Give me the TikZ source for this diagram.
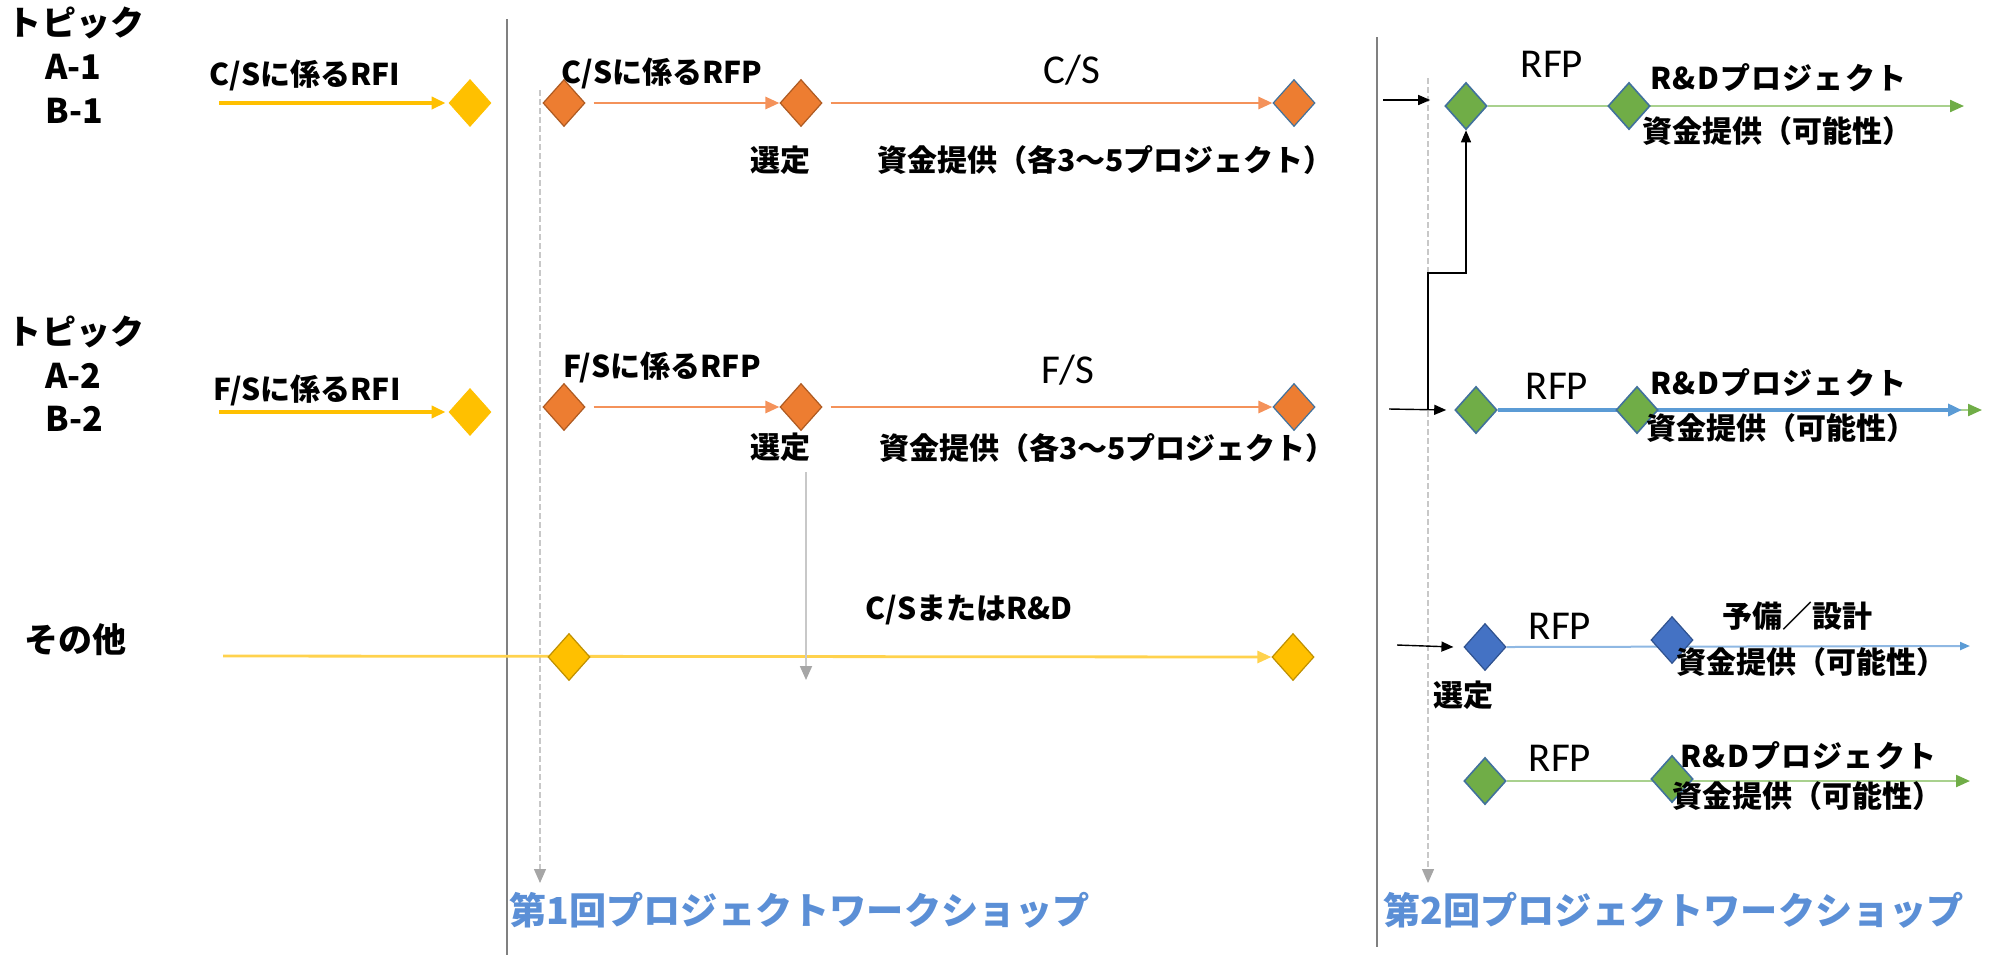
\documentclass[tikz,border=0pt]{standalone}
\usepackage{fontspec}
\setmainfont{Noto Sans CJK JP}
\newfontfamily\calfont{Carlito}
\usetikzlibrary{shapes.geometric,arrows.meta}
\pgfdeclarelayer{bg}
\pgfsetlayers{bg,main}
\definecolor{cYel}{HTML}{FFC000}
\definecolor{cYelD}{HTML}{BF9000}
\definecolor{cYelL}{HTML}{FFD24D}
\definecolor{cOr}{HTML}{ED7D31}
\definecolor{cOrD}{HTML}{AE5A21}
\definecolor{cOrL}{HTML}{F4925A}
\definecolor{cGr}{HTML}{70AD47}
\definecolor{cGrL}{HTML}{A9D18E}
\definecolor{cBlB}{HTML}{41719C}
\definecolor{cBl}{HTML}{4472C4}
\definecolor{cBlD}{HTML}{2F528F}
\definecolor{cBlL}{HTML}{5B9BD5}
\definecolor{cBlLL}{HTML}{8FB8E3}
\definecolor{cWs}{HTML}{5B8FD6}
\definecolor{cGray}{HTML}{808080}
\definecolor{cGrayL}{HTML}{C8C8C8}
\begin{document}
\begin{tikzpicture}[x=0.5pt,y=-0.5pt,
  dia/.style={diamond, inner sep=0pt, minimum width=21pt, minimum height=23.5pt},
  ydia/.style={dia, fill=cYel, draw=cYel},
  ydiaB/.style={dia, fill=cYel, draw=cYelD, line width=0.6pt},
  odia/.style={dia, fill=cOr, draw=cOrD, line width=0.6pt},
  gdia/.style={dia, fill=cGr, draw=cBlB, line width=0.8pt},
  bdia/.style={dia, fill=cBl, draw=cBlD, line width=0.6pt},
  tip/.style={-{Triangle[length=7pt,width=6pt]}},
  yarr/.style={tip, draw=cYel, line width=2pt, shorten >=1.5pt},
  y3arr/.style={tip, draw=cYelL, line width=1.4pt},
  oarr/.style={tip, draw=cOrL, line width=1.4pt, shorten <=4pt},
  garr/.style={tip, draw=cGrL, line width=1.1pt, -{Triangle[length=7pt,width=6pt,fill=cGr,color=cGr]}},
  barr/.style={draw=cBlL, line width=2pt, -{Triangle[length=7pt,width=6pt]}},
  b3arr/.style={draw=cBlLL, line width=1pt, -{Triangle[length=5pt,width=4pt,color=cBlL]}},
  karr/.style={draw=black, line width=0.7pt, -{Triangle[length=6pt,width=5pt]}},
  grarr/.style={draw=cGrayL, line width=0.9pt, -{Triangle[length=7pt,width=6pt,color=gray!70]}},
  dsh/.style={draw=cGrayL, line width=0.6pt, dash pattern=on 3pt off 1.5pt, -{Triangle[length=7pt,width=6pt,color=gray!70]}},
  vline/.style={draw=cGray, line width=1pt},
  lbl/.style={font=\fontsize{15}{18}\selectfont\bfseries, inner sep=0pt},
  rdl/.style={font=\fontsize{15}{18}\selectfont\bfseries\addfontfeature{LetterSpace=4}, inner sep=0pt},
  big/.style={font=\fontsize{17}{20}\selectfont\bfseries, inner sep=0pt},
  hdr/.style={font=\calfont\fontsize{20.5}{24}\selectfont, inner sep=0pt},
  ws/.style={font=\fontsize{18.6}{22}\selectfont\bfseries, text=cWs, inner sep=0pt}]
\useasboundingbox (0,0) rectangle (1990,955);

% ---- diamonds ----
\node[ydia] (Y1) at (470,103) {};
\node[odia] (O1a) at (564,103) {};
\node[odia] (O1b) at (801,103) {};
\node[odia, draw=cBlB] (O1c) at (1294,103) {};
\node[gdia] (G1a) at (1466,106) {};
\node[gdia] (G1b) at (1629,106) {};
\node[ydia] (Y2) at (470,412) {};
\node[odia] (O2a) at (564,407) {};
\node[odia] (O2b) at (801,407) {};
\node[odia, draw=cBlB] (O2c) at (1294,407) {};
\node[gdia] (G2a) at (1476,410) {};
\node[gdia] (G2b) at (1637,410) {};
\node[ydiaB] (Y3a) at (569,657) {};
\node[ydiaB] (Y3b) at (1293,657) {};
\node[bdia] (B3a) at (1485,647) {};
\node[bdia] (B3b) at (1672,640) {};
\node[gdia] (G4a) at (1485,781) {};
\node[gdia] (G4b) at (1672,779) {};

% ---- free ends ----
\coordinate (r1s) at (219,103);
\coordinate (r2s) at (219,412);
\coordinate (r3s) at (223,656);
\coordinate (e1) at (1964,106);
\coordinate (e2b) at (1962,410);
\coordinate (e2g) at (1982,410);
\coordinate (e3) at (1970,646);
\coordinate (e4) at (1970,781);
\coordinate (k1) at (1383,100);
\coordinate (k2) at (1389,409);
\coordinate (k3) at (1397,645);
\coordinate (el0) at (1428,410);
\coordinate (el1) at (1428,273);
\coordinate (el2) at (1466,273);
\coordinate (gs) at (806,472);
\coordinate (ge) at (806,680);
\coordinate (d1s) at (540,90);
\coordinate (d1e) at (540,883);
\coordinate (d2s) at (1428,78);
\coordinate (d2e) at (1428,883);
\coordinate (v1s) at (507,19);
\coordinate (v1e) at (507,955);
\coordinate (v2s) at (1377,37);
\coordinate (v2e) at (1377,947);

% ---- connectors ----
\begin{pgfonlayer}{bg}
\draw[vline] (v1s) -- (v1e);
\draw[vline] (v2s) -- (v2e);
\draw[dsh] (d1s) -- (d1e);
\draw[dsh] (d2s) -- (d2e);
\draw[yarr] (r1s) -- (Y1.west);
\draw[yarr] (r2s) -- (Y2.west);
\draw[oarr] (O1a.east) -- (O1b.west);
\draw[oarr] (O1b.east) -- (O1c.west);
\draw[oarr] (O2a.east) -- (O2b.west);
\draw[oarr] (O2b.east) -- (O2c.west);
\draw[garr] (G1a.east) -- (e1);
\draw[garr] (G2a.east) -- (e2g);
\draw[barr] (G2a.east) -- (e2b);
\draw[y3arr] (r3s) -- (Y3b.west);
\draw[b3arr] (B3a.east) -- (e3);
\draw[garr] (G4a.east) -- (e4);
\draw[karr] (k1) -- ([xshift=-7pt]G1a.west |- k1);
\draw[karr] (k2) -- ([xshift=-4pt]G2a.west);
\draw[karr] (k3) -- ([xshift=-5pt]B3a.west);
\draw[karr] (el0) -- (el1) -- (el2) -- (G1a.south);
\draw[grarr] (gs) -- (ge);
\end{pgfonlayer}

% ---- texts row 1 ----
\node[big] (t1) at (76,23) {トピック};
\node[big, anchor=west] (a1) at (45,67) {A-1};
\node[big, anchor=west] (b1) at (45,111) {B-1};
\node[lbl] (l1) at (305,75) {C/Sに係るRFI};
\node[lbl] (l2) at (662,73) {C/Sに係るRFP};
\node[hdr] (h1) at (1072,70) {C/S};
\node[lbl] (s1) at (780,160) {選定};
\node[lbl, anchor=west] (f1) at (877,160) {資金提供（各3～5プロジェクト）};
\node[hdr] (p1) at (1552,64) {RFP};
\node[rdl, anchor=west] (rd1) at (1650,78) {R\&Dプロジェクト};
\node[lbl, anchor=west] (fr1) at (1642,131) {資金提供（可能性）};

% ---- texts row 2 ----
\node[big] (t2) at (76,332) {トピック};
\node[big, anchor=west] (a2) at (45,376) {A-2};
\node[big, anchor=west] (b2) at (45,419) {B-2};
\node[lbl] (l3) at (307,390) {F/Sに係るRFI};
\node[lbl] (l4) at (662,367) {F/Sに係るRFP};
\node[hdr] (h2) at (1068,370) {F/S};
\node[lbl] (s2) at (780,447) {選定};
\node[lbl, anchor=west] (f2) at (879,448) {資金提供（各3～5プロジェクト）};
\node[hdr] (p2) at (1557,386) {RFP};
\node[rdl, anchor=west] (rd2) at (1650,383) {R\&Dプロジェクト};
\node[lbl, anchor=west] (fr2) at (1646,428) {資金提供（可能性）};

% ---- texts row 3 ----
\node[big] (t3) at (76,640) {その他};
\node[lbl] (l5) at (969,610) {C/SまたはR\&D};
\node[hdr] (p3) at (1560,626) {RFP};
\node[lbl] (yb) at (1797,616) {予備／設計};
\node[lbl, anchor=west] (fr3) at (1676,662) {資金提供（可能性）};
\node[lbl] (s3) at (1463,695) {選定};

% ---- texts row 4 ----
\node[hdr] (p4) at (1560,758) {RFP};
\node[rdl, anchor=west] (rd4) at (1680,756) {R\&Dプロジェクト};
\node[lbl, anchor=west] (fr4) at (1672,796) {資金提供（可能性）};

% ---- workshops ----
\node[ws, anchor=west] (w1) at (509,910) {第1回プロジェクトワークショップ};
\node[ws, anchor=west] (w2) at (1383,910) {第2回プロジェクトワークショップ};
\end{tikzpicture}
\end{document}
